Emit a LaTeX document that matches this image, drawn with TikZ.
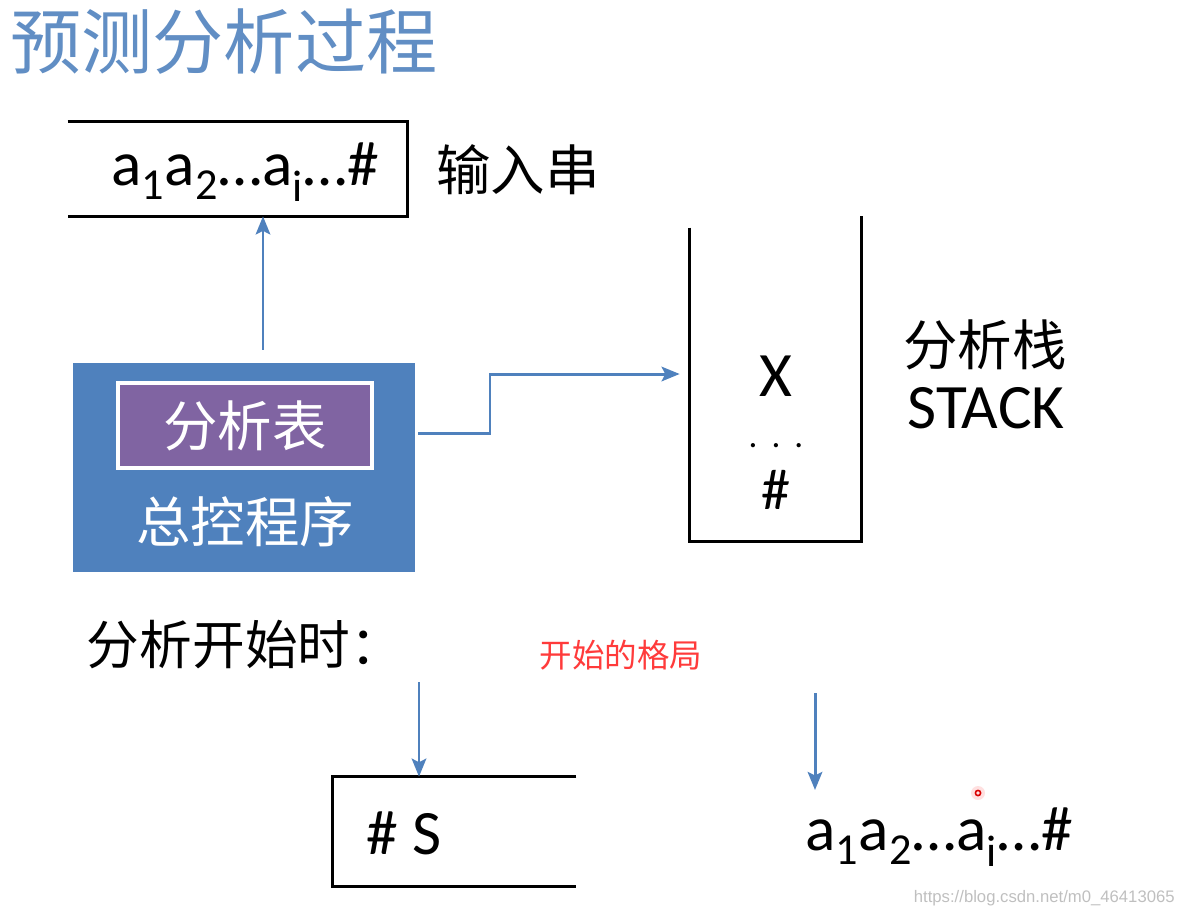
\documentclass[tikz,border=0pt]{standalone}
\usepackage{fontspec}
\setmainfont{Carlito}
\newfontfamily\cjk{Noto Sans CJK SC}
\newfontfamily\wmfont{Liberation Sans}
\usetikzlibrary{positioning,arrows.meta,calc}
\usepackage{xcolor}
\definecolor{slideblue}{HTML}{4F81BD}
\definecolor{slidepurple}{HTML}{8064A2}
\definecolor{notered}{HTML}{FF3B3B}

\begin{document}
\begin{tikzpicture}[
        x=0.02cm, y=-0.02cm,
        txt/.style={inner sep=0pt, font=\fontsize{36}{40}\selectfont},
        zh/.style={inner sep=0pt, font=\cjk\fontsize{31}{36}\selectfont},
        edge/.style={line width=1.7pt, black},
        arr/.style={-{Stealth[length=3.6mm, width=2.9mm, inset=0.7mm]}, line width=1.7pt, slideblue}
    ]
        \useasboundingbox (0,0) rectangle (1180,917);

        % Title
        \node[inner sep=0pt, font=\cjk\fontsize{40.5}{46}\selectfont, text=slideblue!90] (title) at (224,42) {预测分析过程};

        % Input buffer (open on the left)
        \node[minimum width=6.78cm, minimum height=1.88cm] (inbuf) at (237.5,169) {};
        \draw[edge] (inbuf.north west) -- (inbuf.north east) -- (inbuf.south east) -- (inbuf.south west);
        \node[txt] (instr) at (245,172) {a\textsubscript{1}a\textsubscript{2}…a\textsubscript{i}…\#};
        \node[zh] (inlabel) at (518,170) {输入串};

        % Control program with parse table
        \node[fill=slideblue, minimum width=6.84cm, minimum height=4.18cm] (ctrl) at (244,467.5) {};
        \node[fill=slidepurple, draw=white, line width=1.8pt, minimum width=5.08cm, minimum height=1.7cm] (tbl) at (245,425.5) {};
        \node[zh, text=white] (tbllabel) at (tbl.center) {分析表};
        \node[zh, text=white] (ctrllabel) at (245,522) {总控程序};

        % Analysis stack (open on top)
        \node[minimum width=3.42cm, minimum height=6.5cm] (stk) at (775.5,378.5) {};
        \draw[edge] ($(stk.north west)+(0,12)$) -- (stk.south west) -- (stk.south east) -- (stk.north east);
        \node[font=\fontsize{36}{40}\selectfont, inner sep=0pt] (stktop) at (776,376) {X};
        \node[font=\fontsize{20}{24}\selectfont, inner sep=0pt] (stkdots) at (776,446) {.\hspace{0.4em}.\hspace{0.4em}.};
        \node[font=\fontsize{33}{38}\selectfont, inner sep=0pt] (stkbot) at (776,490) {\#};
        \node[zh] (stklabel) at (985,345) {分析栈};
        \node[inner sep=0pt, font=\fontsize{36}{40}\selectfont] (stkname) at (986,408) {STACK};

        % Connectors from the control program
        \coordinate (upx) at (263,0);
        \coordinate (sty) at (0,374);
        \draw[arr, shorten <=0.26cm] (ctrl.north -| upx) -- (inbuf.south -| upx);
        \draw[arr, shorten >=0.2cm] ($(ctrl.east)+(3,-34)$) -| (490,374) -- (stk.west |- sty);

        % Start configuration
        \node[zh, font=\cjk\fontsize{30}{36}\selectfont] (start) at (245,645) {分析开始时：};
        \node[inner sep=0pt, font=\cjk\fontsize{18.5}{22}\selectfont, text=notered] (note) at (621,655) {开始的格局};

        \node[minimum width=4.86cm, minimum height=2.18cm] (sbox) at (454.5,831.5) {};
        \draw[edge] (sbox.north east) -- (sbox.north west) -- (sbox.south west) -- (sbox.south east);
        \node[font=\fontsize{36}{40}\selectfont, inner sep=0pt] (sstack) at (404,833) {\# S};
        \node[txt] (rest) at (939,837) {a\textsubscript{1}a\textsubscript{2}…a\textsubscript{i}…\#};

        \coordinate (d1) at (419,682);
        \coordinate (d2) at (815,693);
        \draw[arr] (d1) -- (sbox.north -| d1);
        \draw[arr] (d2) -- (815,790);

        % Pointer mark
        \fill[red!12] (978,793) circle (7);
        \draw[red!85!black, line width=0.9pt] (978,793) circle (2.6);

        % Watermark
        \node[inner sep=0pt, anchor=east, font=\wmfont\fontsize{9.5}{11}\selectfont, text=black!25] (wm) at (1175,898) {https://blog.csdn.net/m0\_46413065};
    \end{tikzpicture}
\end{document}
